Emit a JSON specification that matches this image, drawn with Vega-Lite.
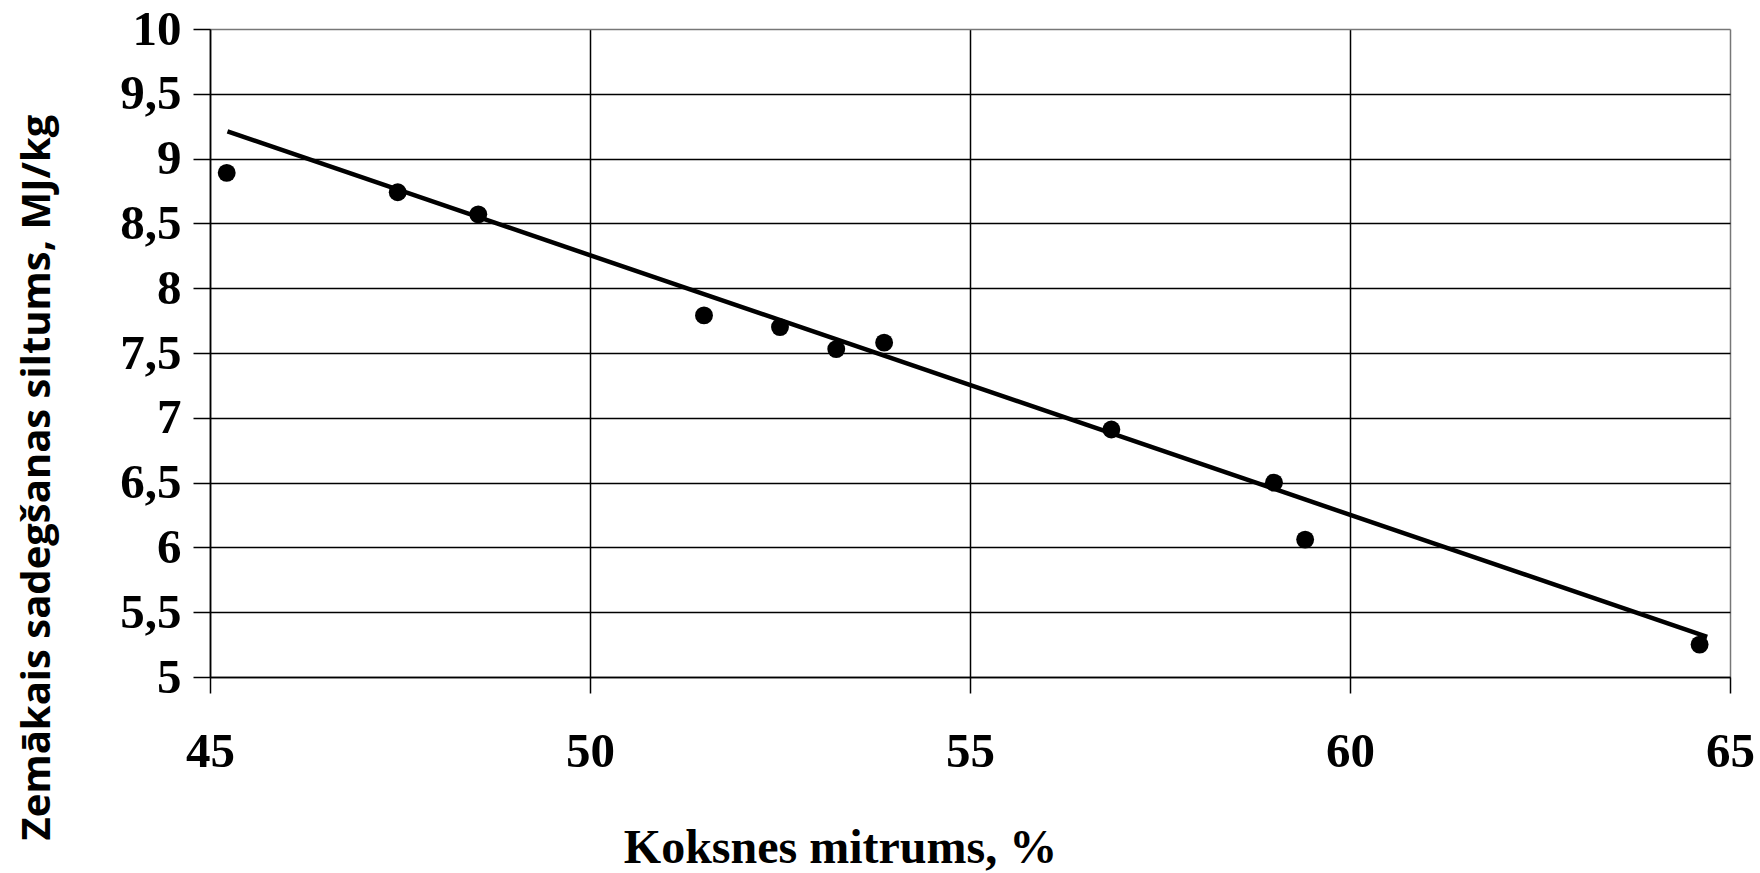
{
  "$schema": "https://vega.github.io/schema/vega-lite/v6.json",
  "autosize": "none",
  "width": 1520,
  "height": 648,
  "padding": {"left": 210, "top": 29, "right": 30, "bottom": 196},
  "background": "white",
  "config": {"view": {"stroke": null}},
  "datasets": {
    "points": [
      {"mitrums": 45.22, "siltums": 8.89},
      {"mitrums": 47.47, "siltums": 8.74},
      {"mitrums": 48.53, "siltums": 8.57},
      {"mitrums": 51.50, "siltums": 7.79},
      {"mitrums": 52.50, "siltums": 7.70},
      {"mitrums": 53.24, "siltums": 7.53},
      {"mitrums": 53.87, "siltums": 7.58},
      {"mitrums": 56.86, "siltums": 6.91},
      {"mitrums": 59.00, "siltums": 6.50},
      {"mitrums": 59.41, "siltums": 6.06},
      {"mitrums": 64.60, "siltums": 5.25}
    ],
    "trend": [
      {"mitrums": 45.23, "siltums": 9.21},
      {"mitrums": 64.70, "siltums": 5.31}
    ]
  },
  "layer": [
    {
      "data": {"name": "points"},
      "mark": {"type": "point", "shape": "circle", "filled": true, "color": "black", "opacity": 1, "size": 320},
      "encoding": {
        "x": {
          "field": "mitrums", "type": "quantitative",
          "scale": {"domain": [45, 65], "nice": false, "zero": false},
          "axis": {
            "values": [45, 50, 55, 60, 65],
            "format": "d",
            "title": "Koksnes mitrums, %",
            "titleFont": "Liberation Serif", "titleFontSize": 48, "titleFontWeight": "bold", "titleColor": "black",
            "titleX": 630, "titleY": 171, "titleAlign": "center", "titleBaseline": "middle",
            "labelFont": "Liberation Serif", "labelFontSize": 49, "labelFontWeight": "bold", "labelColor": "black",
            "labelPadding": 34, "labelFlush": false,
            "tickSize": 16, "tickColor": "black", "tickWidth": 1.5,
            "domainColor": "black", "domainWidth": 1.5,
            "grid": true, "gridWidth": 1.5,
            "gridColor": {"condition": {"test": "datum.value == 65", "value": "#777777"}, "value": "black"},
            "gridOpacity": 1
          }
        },
        "y": {
          "field": "siltums", "type": "quantitative",
          "scale": {"domain": [5, 10], "nice": false, "zero": false},
          "axis": {
            "values": [5, 5.5, 6, 6.5, 7, 7.5, 8, 8.5, 9, 9.5, 10],
            "labelExpr": "replace(format(datum.value, '.1~f'), '.', ',')",
            "title": "Zemākais sadegšanas siltums, MJ/kg",
            "titleFont": "Open Sans", "titleFontSize": 40, "titleFontWeight": "bold", "titleColor": "black",
            "titleX": -173, "titleY": 448, "titleAlign": "center", "titleBaseline": "middle", "titleAngle": -90,
            "labelFont": "Liberation Serif", "labelFontSize": 49, "labelFontWeight": "bold", "labelColor": "black",
            "labelPadding": 12,
            "tickSize": 17, "tickColor": "black", "tickWidth": 1.5,
            "domainColor": "black", "domainWidth": 1.5,
            "grid": true, "gridWidth": 1.5,
            "gridColor": {"condition": {"test": "datum.value == 10", "value": "#777777"}, "value": "black"},
            "gridOpacity": 1
          }
        }
      }
    },
    {
      "data": {"name": "trend"},
      "mark": {"type": "line", "color": "black", "strokeWidth": 4.5},
      "encoding": {
        "x": {"field": "mitrums", "type": "quantitative"},
        "y": {"field": "siltums", "type": "quantitative"}
      }
    }
  ]
}
